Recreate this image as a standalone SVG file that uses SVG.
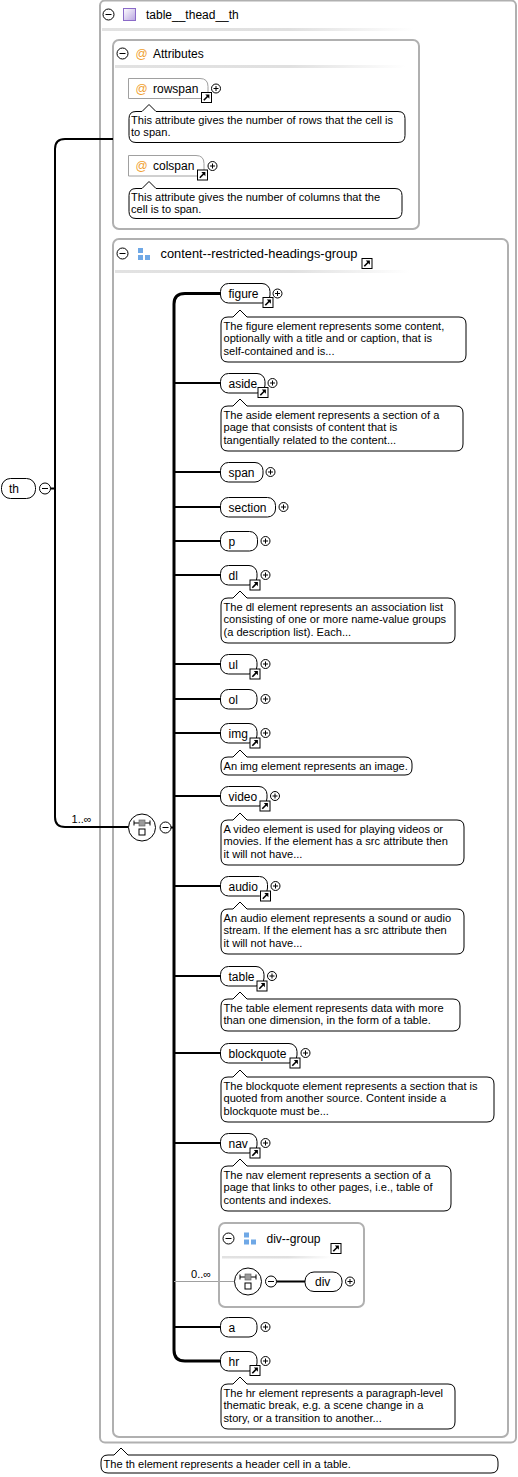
<svg xmlns="http://www.w3.org/2000/svg" xmlns:xlink="http://www.w3.org/1999/xlink" width="518" height="1477" viewBox="0 0 518 1477">
<style>
.t{font-family:"Liberation Sans",Arial,sans-serif;font-size:11.1px;fill:#000}
.l{font-family:"Liberation Sans",Arial,sans-serif;font-size:12px;fill:#000}
.h{font-family:"Liberation Sans",Arial,sans-serif;font-size:12px;fill:#000}
.at{font-family:"Liberation Sans",Arial,sans-serif;font-size:12px;fill:#f0a030}
.frame{fill:none;stroke:#b0b0b0;stroke-width:2}
.node{fill:#fff;stroke:#000;stroke-width:1}
.anode{fill:#fff;stroke:#a0a0a0;stroke-width:1}
.co{fill:#fff;stroke:#000;stroke-width:1}
.wire{fill:none;stroke:#000;stroke-width:2}
.seqv{fill:none;stroke:#000;stroke-width:3}
.gwire{fill:none;stroke:#a0a0a0;stroke-width:1}
.sep{fill:url(#sepg)}
.bl{fill:#6fa8e6}
</style>
<defs>
<linearGradient id="sepg" x1="0" y1="0" x2="1" y2="0">
<stop offset="0" stop-color="#e2e2e2"/>
<stop offset="0.6" stop-color="#e0e0e0"/>
<stop offset="1" stop-color="#ffffff"/>
</linearGradient>
<linearGradient id="purp" x1="0" y1="0" x2="1" y2="1">
<stop offset="0" stop-color="#ffffff"/>
<stop offset="1" stop-color="#b8a4e0"/>
</linearGradient>
<g id="plus"><circle r="4.5" fill="#fff" stroke="#000"/><path d="M-2.5,0H2.5M0,-2.5V2.5" stroke="#000"/></g>
<g id="minus"><circle r="5.5" fill="#fff" stroke="#000"/><path d="M-3,0H3" stroke="#000"/></g>
<g id="ext"><rect x="0.5" y="0.5" width="10" height="10" fill="#fff" stroke="#000"/><path d="M2.8,8.2 L7.2,3.8" stroke="#000" stroke-width="1.6"/><path d="M4.3,2.6 H8.4 V6.7 Z" fill="#000"/></g>
<g id="seq"><circle r="13.5" fill="#fff" stroke="#000"/><path d="M-8,-4.5H8 M-8,-7V-2 M8,-7V-2" stroke="#000"/><rect x="-3" y="-7.5" width="6" height="6" fill="#9a9a9a" stroke="#666" stroke-width="0.7"/><rect x="-3" y="1.5" width="6" height="6" fill="#fff" stroke="#000"/></g>
<g id="grp"><rect class="bl" x="0" y="0" width="5" height="5"/><rect class="bl" x="0" y="7" width="5" height="5"/><rect class="bl" x="7" y="7" width="5" height="5"/></g>
</defs>

<g id="frame-th">
<rect class="frame" x="100" y="0.5" width="416" height="1442" rx="5"/>
<rect class="sep" x="102" y="28" width="312" height="3"/>
<use href="#minus" x="108.5" y="14.5"/>
<rect x="123.5" y="8.5" width="12" height="12" fill="url(#purp)" stroke="#8a6ac8"/>
<text class="h" x="146" y="19">table__thead__th</text>
</g>

<g id="attributes">
<rect class="frame" x="113" y="40" width="306" height="189" rx="6"/>
<rect class="sep" x="115" y="65" width="290" height="3"/>
<use href="#minus" x="122.5" y="53.5"/>
<text class="at" x="135.5" y="57.5">@</text>
<text class="h" x="153" y="57.5">Attributes</text>
</g>

<g id="rowspan">
<path class="anode" d="M128.5,78.5 H200 Q208,78.5 208,86.5 V98.5 H128.5 Z"/>
<text class="at" x="135.5" y="92.5">@</text>
<text class="l" x="153" y="92.5">rowspan</text>
<use href="#ext" x="201" y="92"/>
<use href="#plus" x="216" y="88.5"/>
<path class="co" d="M136,111.5 H142 L149,104.5 L156,111.5 H398 Q405,111.5 405,118.5 V135.5 Q405,142.5 398,142.5 H136 Q129,142.5 129,135.5 V118.5 Q129,111.5 136,111.5 Z"/>
<text class="t" x="131" y="123.5">This attribute gives the number of rows that the cell is</text>
<text class="t" x="131" y="136">to span.</text>
</g>

<g id="colspan">
<path class="anode" d="M128.5,155.5 H196 Q204,155.5 204,163.5 V176 H128.5 Z"/>
<text class="at" x="135.5" y="170">@</text>
<text class="l" x="153" y="170">colspan</text>
<use href="#ext" x="197" y="169.5"/>
<use href="#plus" x="212.5" y="166"/>
<path class="co" d="M136,188.5 H142 L149,181.5 L156,188.5 H395 Q402,188.5 402,195.5 V211.5 Q402,218.5 395,218.5 H136 Q129,218.5 129,211.5 V195.5 Q129,188.5 136,188.5 Z"/>
<text class="t" x="131" y="200.5">This attribute gives the number of columns that the</text>
<text class="t" x="131" y="213">cell is to span.</text>
</g>

<g id="content-group">
<rect class="frame" x="113" y="239" width="395" height="1198" rx="6"/>
<rect class="sep" x="115" y="270" width="295" height="3"/>
<use href="#minus" x="122.5" y="253.5"/>
<use href="#grp" x="138" y="248"/>
<text class="h" x="160.5" y="257.5" textLength="197" lengthAdjust="spacingAndGlyphs">content--restricted-headings-group</text>
<use href="#ext" x="361.5" y="258"/>
</g>

<g id="connectors">
<path class="wire" d="M113,139 H65 Q55,139 55,149 V817 Q55,827 65,827 H128.5"/>
<path class="wire" d="M50,488.5 H55"/>
<path class="wire" d="M170,827.5 H174"/>
<path class="seqv" d="M220,293.5 H185 Q174,293.5 174,304 V1350 Q174,1361 185,1361 H220"/>
<path class="wire" d="M174,383 H220 M174,472 H220 M174,507 H220 M174,541 H220 M174,575 H220 M174,664 H220 M174,699 H220 M174,733 H220 M174,796 H220 M174,886 H220 M174,976 H220 M174,1053 H220 M174,1143 H220 M174,1327 H220"/>
<path class="gwire" d="M174,1281.5 H234.5"/>
<path class="wire" d="M276.5,1281.5 H305"/>
<text class="t" x="71.5" y="823">1..∞</text>
<text class="t" x="191" y="1278">0..∞</text>
</g>

<g id="th">
<rect class="node" x="1.5" y="478.5" width="34" height="20" rx="9"/>
<text class="l" x="9" y="492.5">th</text>
<use href="#minus" x="45" y="488.5"/>
</g>

<g id="sequence">
<use href="#seq" x="142" y="827.5"/>
<use href="#minus" x="165.5" y="827.5"/>
</g>

<g id="figure">
<rect class="node" x="220.5" y="283.5" width="49.5" height="19.5" rx="8"/>
<text class="l" x="228.5" y="297.5">figure</text>
<use href="#ext" x="262.5" y="297"/>
<use href="#plus" x="277.5" y="293.5"/>
<path class="co" d="M228,317 H233 L240,310 L247,317 H459 Q466,317 466,324 V355 Q466,362 459,362 H228 Q221,362 221,355 V324 Q221,317 228,317 Z"/>
<text class="t" x="223.5" y="329.5">The figure element represents some content,</text>
<text class="t" x="223.5" y="342">optionally with a title and or caption, that is</text>
<text class="t" x="223.5" y="354.5">self-contained and is...</text>
</g>

<g id="aside">
<rect class="node" x="220.5" y="373.5" width="44.5" height="19.5" rx="8"/>
<text class="l" x="228.5" y="387.5">aside</text>
<use href="#ext" x="257.5" y="387"/>
<use href="#plus" x="272.5" y="383"/>
<path class="co" d="M228,406 H233 L240,399 L247,406 H456 Q463,406 463,413 V444 Q463,451 456,451 H228 Q221,451 221,444 V413 Q221,406 228,406 Z"/>
<text class="t" x="223.5" y="418.5">The aside element represents a section of a</text>
<text class="t" x="223.5" y="431">page that consists of content that is</text>
<text class="t" x="223.5" y="443.5">tangentially related to the content...</text>
</g>

<g id="span">
<rect class="node" x="220.5" y="462.5" width="42.5" height="19.5" rx="8"/>
<text class="l" x="228.5" y="476.5">span</text>
<use href="#plus" x="270.5" y="472"/>
</g>

<g id="section">
<rect class="node" x="220.5" y="497.5" width="55" height="19.5" rx="8"/>
<text class="l" x="228.5" y="511.5">section</text>
<use href="#plus" x="283.5" y="507"/>
</g>

<g id="p">
<rect class="node" x="220.5" y="531.5" width="37" height="19.5" rx="8"/>
<text class="l" x="228.5" y="545.5">p</text>
<use href="#plus" x="265.5" y="541"/>
</g>

<g id="dl">
<rect class="node" x="220.5" y="565.5" width="36.5" height="19.5" rx="8"/>
<text class="l" x="228.5" y="579.5">dl</text>
<use href="#ext" x="249.5" y="579.5"/>
<use href="#plus" x="265.5" y="575"/>
<path class="co" d="M228,598 H233 L240,591 L247,598 H448 Q455,598 455,605 V636 Q455,643 448,643 H228 Q221,643 221,636 V605 Q221,598 228,598 Z"/>
<text class="t" x="223.5" y="610.5">The dl element represents an association list</text>
<text class="t" x="223.5" y="623">consisting of one or more name-value groups</text>
<text class="t" x="223.5" y="635.5">(a description list). Each...</text>
</g>

<g id="ul">
<rect class="node" x="220.5" y="654.5" width="36.5" height="19.5" rx="8"/>
<text class="l" x="228.5" y="668.5">ul</text>
<use href="#ext" x="249.5" y="668.5"/>
<use href="#plus" x="265.5" y="664"/>
</g>

<g id="ol">
<rect class="node" x="220.5" y="689.5" width="36.5" height="19.5" rx="8"/>
<text class="l" x="228.5" y="703.5">ol</text>
<use href="#plus" x="265.5" y="699"/>
</g>

<g id="img">
<rect class="node" x="220.5" y="723.5" width="36.5" height="19.5" rx="8"/>
<text class="l" x="228.5" y="737.5">img</text>
<use href="#ext" x="249.5" y="737.5"/>
<use href="#plus" x="265.5" y="733"/>
<path class="co" d="M228,757 H233 L240,750 L247,757 H405 Q412,757 412,764 V768 Q412,775 405,775 H228 Q221,775 221,768 V764 Q221,757 228,757 Z"/>
<text class="t" x="223.5" y="769.5">An img element represents an image.</text>
</g>

<g id="video">
<rect class="node" x="220.5" y="786.5" width="46.5" height="19.5" rx="8"/>
<text class="l" x="228.5" y="800.5">video</text>
<use href="#ext" x="259.5" y="800.5"/>
<use href="#plus" x="275" y="796"/>
<path class="co" d="M228,820 H233 L240,813 L247,820 H457 Q464,820 464,827 V858 Q464,865 457,865 H228 Q221,865 221,858 V827 Q221,820 228,820 Z"/>
<text class="t" x="223.5" y="832.5">A video element is used for playing videos or</text>
<text class="t" x="223.5" y="845">movies. If the element has a src attribute then</text>
<text class="t" x="223.5" y="857.5">it will not have...</text>
</g>

<g id="audio">
<rect class="node" x="220.5" y="876.5" width="47" height="19.5" rx="8"/>
<text class="l" x="228.5" y="890.5">audio</text>
<use href="#ext" x="260" y="890.5"/>
<use href="#plus" x="275.5" y="886"/>
<path class="co" d="M228,909 H233 L240,902 L247,909 H457 Q464,909 464,916 V947 Q464,954 457,954 H228 Q221,954 221,947 V916 Q221,909 228,909 Z"/>
<text class="t" x="223.5" y="921.5">An audio element represents a sound or audio</text>
<text class="t" x="223.5" y="934">stream. If the element has a src attribute then</text>
<text class="t" x="223.5" y="946.5">it will not have...</text>
</g>

<g id="table">
<rect class="node" x="220.5" y="966.5" width="43.5" height="19.5" rx="8"/>
<text class="l" x="228.5" y="980.5">table</text>
<use href="#ext" x="256.5" y="980.5"/>
<use href="#plus" x="272" y="976"/>
<path class="co" d="M228,999 H233 L240,992 L247,999 H453 Q460,999 460,1006 V1024 Q460,1031 453,1031 H228 Q221,1031 221,1024 V1006 Q221,999 228,999 Z"/>
<text class="t" x="223.5" y="1011.5">The table element represents data with more</text>
<text class="t" x="223.5" y="1024">than one dimension, in the form of a table.</text>
</g>

<g id="blockquote">
<rect class="node" x="220.5" y="1043.5" width="76.5" height="19.5" rx="8"/>
<text class="l" x="228.5" y="1057.5">blockquote</text>
<use href="#ext" x="289.5" y="1057.5"/>
<use href="#plus" x="305.5" y="1053"/>
<path class="co" d="M228,1077 H233 L240,1070 L247,1077 H487 Q494,1077 494,1084 V1115 Q494,1122 487,1122 H228 Q221,1122 221,1115 V1084 Q221,1077 228,1077 Z"/>
<text class="t" x="223.5" y="1089.5">The blockquote element represents a section that is</text>
<text class="t" x="223.5" y="1102">quoted from another source. Content inside a</text>
<text class="t" x="223.5" y="1114.5">blockquote must be...</text>
</g>

<g id="nav">
<rect class="node" x="220.5" y="1133.5" width="36.5" height="19.5" rx="8"/>
<text class="l" x="228.5" y="1147.5">nav</text>
<use href="#ext" x="249.5" y="1147.5"/>
<use href="#plus" x="265.5" y="1143"/>
<path class="co" d="M228,1166 H233 L240,1159 L247,1166 H444 Q451,1166 451,1173 V1204 Q451,1211 444,1211 H228 Q221,1211 221,1204 V1173 Q221,1166 228,1166 Z"/>
<text class="t" x="223.5" y="1178.5">The nav element represents a section of a</text>
<text class="t" x="223.5" y="1191">page that links to other pages, i.e., table of</text>
<text class="t" x="223.5" y="1203.5">contents and indexes.</text>
</g>

<g id="div-group">
<rect class="frame" x="219" y="1223" width="145" height="84" rx="6"/>
<rect class="sep" x="222" y="1256" width="110" height="2.5"/>
<use href="#minus" x="228.5" y="1238.5"/>
<use href="#grp" x="244" y="1232.5"/>
<text class="h" x="266.5" y="1242.5">div--group</text>
<use href="#ext" x="330.5" y="1243"/>
<use href="#seq" x="248" y="1281.5"/>
<use href="#minus" x="271" y="1281.5"/>
</g>

<g id="div">
<rect class="node" x="305" y="1272" width="37" height="19.5" rx="9"/>
<text class="l" x="315" y="1286">div</text>
<use href="#plus" x="350" y="1281.5"/>
</g>

<g id="a">
<rect class="node" x="220.5" y="1317.5" width="36.5" height="19.5" rx="8"/>
<text class="l" x="228.5" y="1331.5">a</text>
<use href="#plus" x="265.5" y="1327"/>
</g>

<g id="hr">
<rect class="node" x="220.5" y="1351.5" width="36.5" height="19.5" rx="8"/>
<text class="l" x="228.5" y="1365.5">hr</text>
<use href="#ext" x="249.5" y="1365"/>
<use href="#plus" x="265.5" y="1361"/>
<path class="co" d="M228,1384 H233 L240,1377 L247,1384 H448 Q455,1384 455,1391 V1422 Q455,1429 448,1429 H228 Q221,1429 221,1422 V1391 Q221,1384 228,1384 Z"/>
<text class="t" x="223.5" y="1396.5">The hr element represents a paragraph-level</text>
<text class="t" x="223.5" y="1409">thematic break, e.g. a scene change in a</text>
<text class="t" x="223.5" y="1421.5">story, or a transition to another...</text>
</g>

<g id="th-doc">
<path class="co" d="M108,1455 H114 L121,1448 L128,1455 H491 Q498,1455 498,1462 V1466 Q498,1473 491,1473 H108 Q101,1473 101,1466 V1462 Q101,1455 108,1455 Z"/>
<text class="t" x="103.5" y="1467.5">The th element represents a header cell in a table.</text>
</g>
</svg>
